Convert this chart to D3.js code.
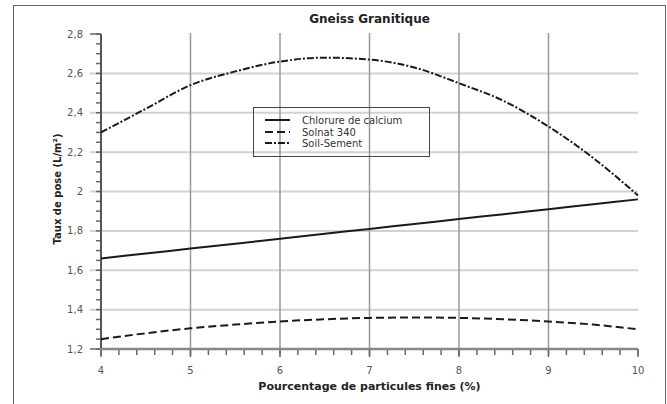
<!DOCTYPE html>
<html><head><meta charset="utf-8">
<script src="https://cdn.jsdelivr.net/npm/d3@7"></script>
<style>body{margin:0;background:#fff;} svg{display:block;font-family:"DejaVu Sans",Verdana,sans-serif;}</style>
</head><body>
<svg id="chart" width="667" height="404"></svg>
<script>
const title = "Gneiss Granitique";
const xLabel = "Pourcentage de particules fines (%)";
const yLabel = "Taux de pose (L/m²)";
const xValues = [4, 4.5, 5, 5.5, 6, 6.5, 7, 7.5, 8, 8.5, 9, 9.5, 10];
const chlorure = [1.66, 1.685, 1.71, 1.735, 1.76, 1.785, 1.81, 1.835, 1.86, 1.885, 1.91, 1.935, 1.96];
const solnat = [1.25, 1.28, 1.305, 1.324, 1.34, 1.351, 1.358, 1.36, 1.358, 1.351, 1.34, 1.324, 1.30];
const soilSement = [2.30, 2.42, 2.54, 2.61, 2.66, 2.68, 2.67, 2.63, 2.55, 2.46, 2.33, 2.17, 1.98];
const seriesNames = ["Chlorure de calcium", "Solnat 340", "Soil-Sement"];
const xTicks = [4, 5, 6, 7, 8, 9, 10];
const yTicks = [1.2, 1.4, 1.6, 1.8, 2.0, 2.2, 2.4, 2.6, 2.8];

const svg = d3.select("#chart");
const L = 101, R = 638, T = 34, B = 349;
const x = d3.scaleLinear().domain([4, 10]).range([L, R]);
const y = d3.scaleLinear().domain([1.2, 2.8]).range([B, T]);

// frame
svg.append("rect").attr("x", 13.5).attr("y", 5.5).attr("width", 652).attr("height", 420)
  .attr("fill", "none").attr("stroke", "#666").attr("stroke-width", 1);

// horizontal grid
svg.append("g").selectAll("line").data(yTicks.filter(v => v > 1.2 && v < 2.8)).join("line")
  .attr("x1", L - 11).attr("x2", R).attr("y1", d => y(d)).attr("y2", d => y(d))
  .attr("stroke", "#d2d2d2").attr("stroke-width", 2);
// vertical grid
svg.append("g").selectAll("line").data(xTicks.filter(v => v > 4 && v < 10)).join("line")
  .attr("x1", d => x(d)).attr("x2", d => x(d)).attr("y1", T - 1).attr("y2", B)
  .attr("stroke", "#999").attr("stroke-width", 1.5);

// axes
const yMinor = d3.range(1.2, 2.8001, 0.05);
svg.append("g").selectAll("line").data(yMinor).join("line")
  .attr("x1", L - 5).attr("x2", L).attr("y1", d => y(d)).attr("y2", d => y(d))
  .attr("stroke", "#666").attr("stroke-width", 1.5);
svg.append("g").selectAll("line").data([2.8, 1.2]).join("line")
  .attr("x1", L - 11).attr("x2", L).attr("y1", d => y(d)).attr("y2", d => y(d))
  .attr("stroke", "#666").attr("stroke-width", 1.5);
const xMinor = d3.range(4, 10.001, 0.2);
svg.append("g").selectAll("line").data(xMinor).join("line")
  .attr("x1", d => x(d)).attr("x2", d => x(d)).attr("y1", B).attr("y2", B + 6)
  .attr("stroke", "#666").attr("stroke-width", 1.5);
svg.append("g").selectAll("line").data(xTicks).join("line")
  .attr("x1", d => x(d)).attr("x2", d => x(d)).attr("y1", B).attr("y2", B + 8)
  .attr("stroke", "#666").attr("stroke-width", 1.5);
svg.append("line").attr("x1", L).attr("x2", L).attr("y1", T).attr("y2", B + 1)
  .attr("stroke", "#555").attr("stroke-width", 2);
svg.append("line").attr("x1", L - 1).attr("x2", R).attr("y1", B).attr("y2", B)
  .attr("stroke", "#888").attr("stroke-width", 2.5);

// tick labels
const fmt = v => (Math.round(v * 10) / 10).toString().replace(".", ",");
svg.append("g").selectAll("text").data(yTicks).join("text")
  .attr("x", L - 18).attr("y", d => y(d) + 3.5).attr("text-anchor", "end")
  .attr("font-size", 10).attr("fill", "#555").text(fmt);
svg.append("g").selectAll("text").data(xTicks).join("text")
  .attr("x", d => x(d)).attr("y", B + 25).attr("text-anchor", "middle")
  .attr("font-size", 10).attr("fill", "#555").text(d => d);

// labels
svg.append("text").attr("x", (L + R) / 2).attr("y", 23).attr("text-anchor", "middle")
  .attr("font-size", 12).attr("font-weight", "bold").attr("fill", "#222").text(title);
svg.append("text").attr("x", (L + R) / 2).attr("y", 390).attr("text-anchor", "middle")
  .attr("font-size", 11).attr("font-weight", "bold").attr("fill", "#222").text(xLabel);
svg.append("text").attr("transform", "translate(61,189) rotate(-90)").attr("text-anchor", "middle")
  .attr("font-size", 10).attr("font-weight", "bold").attr("fill", "#222").text(yLabel);

// series
const dashes = [null, "8,4", "7,2,2,2"];
const data = [chlorure, solnat, soilSement];
const line = d3.line().x((d, i) => x(xValues[i])).y(d => y(d)).curve(d3.curveMonotoneX);
data.forEach((s, k) => {
  svg.append("path").datum(s).attr("d", line).attr("fill", "none")
    .attr("stroke", "#1a1a1a").attr("stroke-width", 2)
    .attr("stroke-dasharray", dashes[k]);
});

// legend
const lg = svg.append("g");
lg.append("rect").attr("x", 253.5).attr("y", 107.5).attr("width", 176).attr("height", 49)
  .attr("fill", "none").attr("stroke", "#444").attr("stroke-width", 1);
seriesNames.forEach((n, k) => {
  const yy = [120, 132, 143][k];
  lg.append("line").attr("x1", 265).attr("x2", 290).attr("y1", yy).attr("y2", yy)
    .attr("stroke", "#1a1a1a").attr("stroke-width", 2).attr("stroke-dasharray", dashes[k]);
  lg.append("text").attr("x", 302).attr("y", yy + 3.5).attr("font-size", 10)
    .attr("fill", "#333").text(n);
});
</script>
</body></html>
